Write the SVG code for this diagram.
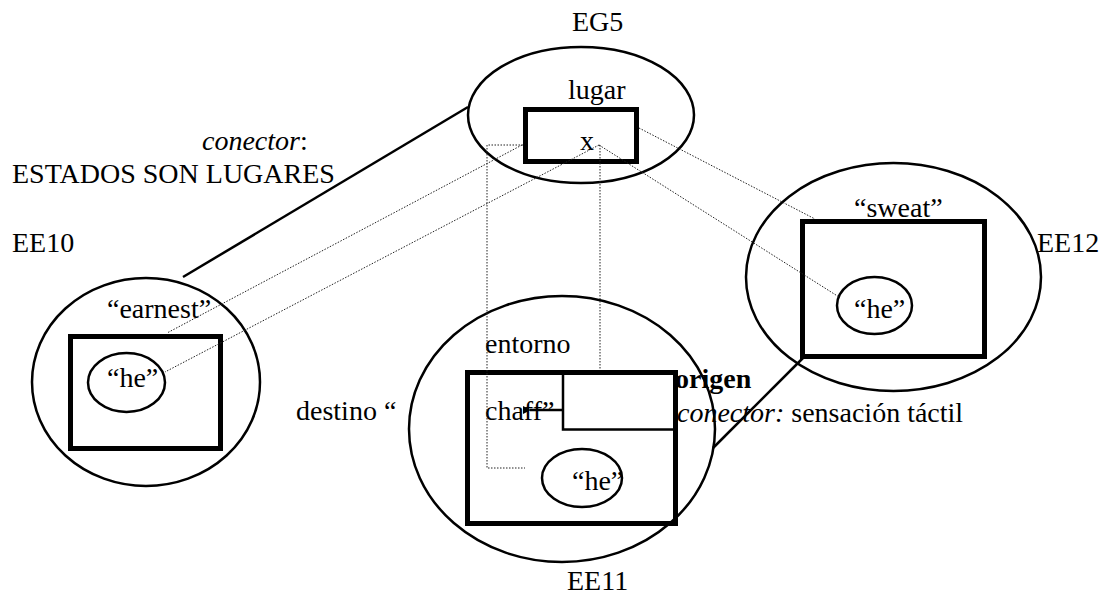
<svg xmlns="http://www.w3.org/2000/svg" width="1119" height="596" viewBox="0 0 1119 596" font-family="Liberation Serif, serif" font-size="28">
<style>
.it{font-style:italic}
.b{font-weight:bold}
.ell{fill:none;stroke:#000;stroke-width:2.5}
.box{fill:none;stroke:#000;stroke-width:5}
.thin{fill:none;stroke:#000;stroke-width:2.5}
.dot{fill:none;stroke:#222;stroke-width:1;stroke-dasharray:1.5 1.5}
.solid{fill:none;stroke:#000;stroke-width:2.5}
</style>
<defs>
<marker id="arr" markerWidth="8" markerHeight="8" refX="1" refY="4" orient="auto" markerUnits="userSpaceOnUse">
<path d="M8,0 L0,4 L8,8 Z" fill="#000"/>
</marker>
</defs>
<rect width="1119" height="596" fill="#fff"/>
<g id="labels">
<text x="202" y="150"><tspan class="it">conector</tspan>:</text>
<text x="12" y="183">ESTADOS SON LUGARES</text>
<text x="12" y="252">EE10</text>
<text x="296" y="420">destino “</text>
<text x="675" y="388" class="b">origen</text>
<text x="677" y="422"><tspan class="it">conector:</tspan> sensación táctil</text>
</g>
<g id="EG5">
<text x="572" y="31">EG5</text>
<ellipse class="ell" cx="581" cy="115" rx="113" ry="68"/>
<text x="568" y="99">lugar</text>
<rect class="box" x="525.5" y="109.5" width="111" height="52"/>
<text x="580" y="150">x</text>
</g>
<g id="EE10">
<ellipse class="ell" cx="146" cy="382" rx="114" ry="104"/>
<text x="107" y="318">“earnest”</text>
<rect class="box" x="70.5" y="336.5" width="150" height="112"/>
<ellipse class="thin" cx="126.5" cy="382.5" rx="38.5" ry="29.5"/>
<text x="107" y="387">“he”</text>
</g>
<g id="EE11">
<ellipse class="ell" cx="562" cy="429" rx="153" ry="133"/>
<text x="485" y="353">entorno</text>
<text x="485" y="420">chaff”</text>
<rect class="box" x="467.5" y="372.5" width="208" height="151"/>
<rect class="thin" x="563" y="372.5" width="112.5" height="57"/>
<line class="thin" x1="563" y1="410" x2="530" y2="410" marker-end="url(#arr)"/>
<ellipse class="thin" cx="582" cy="478" rx="40" ry="29"/>
<text x="572" y="490">“he”</text>
<text x="567" y="590">EE11</text>
</g>
<g id="EE12">
<ellipse class="ell" cx="893.5" cy="277" rx="147.5" ry="114"/>
<text x="854" y="217">“sweat”</text>
<rect class="box" x="802.5" y="221.5" width="182" height="135"/>
<ellipse class="thin" cx="874.5" cy="305.5" rx="37.5" ry="28.5"/>
<text x="854" y="318">“he”</text>
<text x="1037" y="252">EE12</text>
</g>
<g id="connectors">
<line class="solid" x1="468" y1="107" x2="183" y2="277"/>
<line class="solid" x1="804" y1="357" x2="713" y2="448"/>
<line class="dot" x1="522" y1="145" x2="167" y2="333"/>
<line class="dot" x1="599" y1="145" x2="165" y2="372"/>
<line class="dot" x1="639" y1="128" x2="815" y2="219"/>
<line class="dot" x1="599" y1="145" x2="839" y2="297"/>
<polyline class="dot" points="523,145 487,145 487,468 525,468"/>
<line class="dot" x1="600" y1="145" x2="600" y2="370"/>
</g>
</svg>
